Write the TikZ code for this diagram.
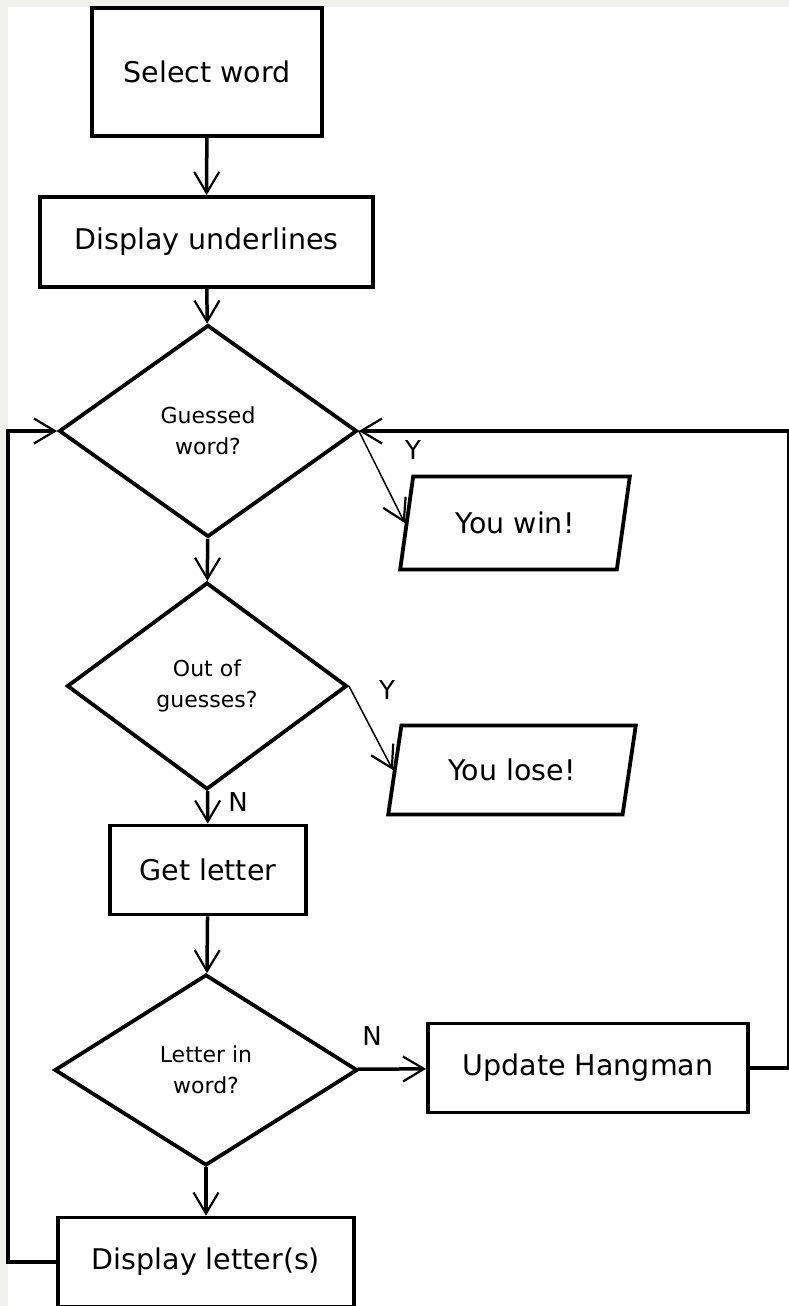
\documentclass[tikz,border=0pt]{standalone}
\usepackage{fontspec}
\setmainfont{DejaVu Sans}
\usetikzlibrary{shapes.geometric,arrows.meta}
\definecolor{edgegray}{RGB}{240,240,238}
\tikzset{
  >={Straight Barb[length=21pt,width=25pt,line width=2.2pt]},
  box/.style={draw,line width=3.8pt,inner sep=0,font=\fontsize{28.5}{32}\selectfont},
  decision/.style={draw,diamond,line width=3.8pt,inner sep=0,align=center,font=\fontsize{22}{31}\selectfont},
  io/.style={draw,trapezium,trapezium left angle=71,trapezium right angle=109,trapezium stretches=true,line width=3.8pt,inner sep=0,font=\fontsize{28.5}{32}\selectfont},
  flow/.style={->,line width=3.5pt},
  branch/.style={->,line width=1.5pt},
  lbl/.style={font=\fontsize{26}{30}\selectfont}
}
\begin{document}
\begin{tikzpicture}[x=1pt,y=-1pt]
\useasboundingbox (0,0) rectangle (789,1306);
\fill[edgegray] (0,0) rectangle (789,1306);
\fill[white] (8,7) rectangle (789,1306);
%boxes
\node[box,minimum width=230,minimum height=128] (sel) at(207,72) {Select word};
\node[box,minimum width=333,minimum height=90] (und) at(206.5,242) {Display underlines};
\node[decision,minimum width=298,minimum height=212] (guess) at(208,431) {Guessed\\word?};
\node[io,minimum width=230,minimum height=93] (win) at(515,523) {You win!};
\node[decision,minimum width=280,minimum height=207] (outof) at(207,686) {Out of\\guesses?};
\node[io,minimum width=248,minimum height=89] (lose) at(512,770) {You lose!};
\node[box,minimum width=196,minimum height=89] (get) at(208,870) {Get letter};
\node[decision,minimum width=303,minimum height=191] (letin) at(206,1070) {Letter in\\word?};
\node[box,minimum width=320,minimum height=89] (hang) at(588,1068) {Update Hangman};
\node[box,minimum width=296,minimum height=89] (disp) at(206,1262) {Display letter(s)};
%arrows
\draw[flow] (sel)--(und);
\draw[flow] (und)--(guess);
\draw[flow] (guess)--(outof);
\draw[flow] (outof)--(get);
\draw[flow] (get)--(letin);
\draw[flow] (letin)--(disp);
\draw[flow] (letin)--(hang);
\draw[branch] (guess.east)--(win.west);
\draw[branch] (outof.east)--(lose.west);
\draw[flow] (hang.east)--++(39,0)|-(guess.east);
\draw[flow] (disp.west)--++(-48,0)|-(guess.west);
%labels
\node[lbl] (y1) at(413,450) {Y};
\node[lbl] (y2) at(387,690) {Y};
\node[lbl] (n1) at(238,802) {N};
\node[lbl] (n2) at(372,1036) {N};
\end{tikzpicture}
\end{document}
